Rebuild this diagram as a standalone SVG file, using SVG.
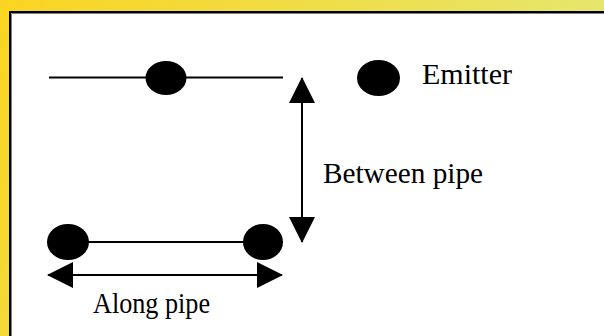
<svg xmlns="http://www.w3.org/2000/svg" width="604" height="336" viewBox="0 0 604 336">
  <defs>
    <linearGradient id="frameFill" gradientUnits="userSpaceOnUse" x1="0" y1="0" x2="604" y2="336">
      <stop offset="0" stop-color="#fad420"/>
      <stop offset="0.76" stop-color="#e6e66c"/>
      <stop offset="1" stop-color="#e2e878"/>
    </linearGradient>
    <marker id="head" viewBox="0 0 26 26" refX="25" refY="13" markerWidth="26" markerHeight="26" markerUnits="userSpaceOnUse" orient="auto-start-reverse">
      <path d="M0,0 L26,13 L0,26 Z" fill="#000"/>
    </marker>
    <style>
      .pipe { stroke: #000; stroke-width: 2.2; fill: none; }
      .dim { stroke: #000; stroke-width: 2; fill: none; marker-start: url(#head); marker-end: url(#head); }
      .emitter { fill: #000; }
      .label { font-family: "Liberation Serif", "Times New Roman", serif; font-size: 29px; fill: #000; }
    </style>
  </defs>

  <!-- frame -->
  <rect x="0" y="0" width="604" height="336" fill="url(#frameFill)"/>
  <rect x="10" y="12" width="594" height="324" fill="#ffffff"/>
  <path d="M10,336 V12 H604" stroke="#000" stroke-width="2" fill="none"/>
  <path d="M11.5,336 V13.5 H604" stroke="#808080" stroke-width="1" fill="none"/>

  <!-- pipes and dimension arrows -->
  <g id="connectors">
    <line class="pipe" x1="49" y1="77.5" x2="283" y2="77.5"/>
    <line class="pipe" x1="68" y1="242" x2="263" y2="242"/>
    <line class="dim" x1="302" y1="78" x2="302" y2="242"/>
    <line class="dim" x1="48" y1="275" x2="282" y2="275"/>
  </g>

  <g id="emitter-top">
    <ellipse class="emitter" cx="166" cy="78" rx="20.5" ry="17"/>
  </g>
  <g id="emitter-bottom-left">
    <ellipse class="emitter" cx="68" cy="242" rx="21" ry="18"/>
  </g>
  <g id="emitter-bottom-right">
    <ellipse class="emitter" cx="263" cy="242" rx="20" ry="18"/>
  </g>

  <g id="legend">
    <ellipse class="emitter" cx="378.5" cy="78" rx="21.5" ry="18"/>
    <text class="label" x="422" y="84" textLength="90" lengthAdjust="spacingAndGlyphs">Emitter</text>
  </g>

  <g id="label-between">
    <text class="label" x="323" y="183" textLength="160" lengthAdjust="spacingAndGlyphs">Between pipe</text>
  </g>
  <g id="label-along">
    <text class="label" x="93" y="313" textLength="117" lengthAdjust="spacingAndGlyphs">Along pipe</text>
  </g>
</svg>
